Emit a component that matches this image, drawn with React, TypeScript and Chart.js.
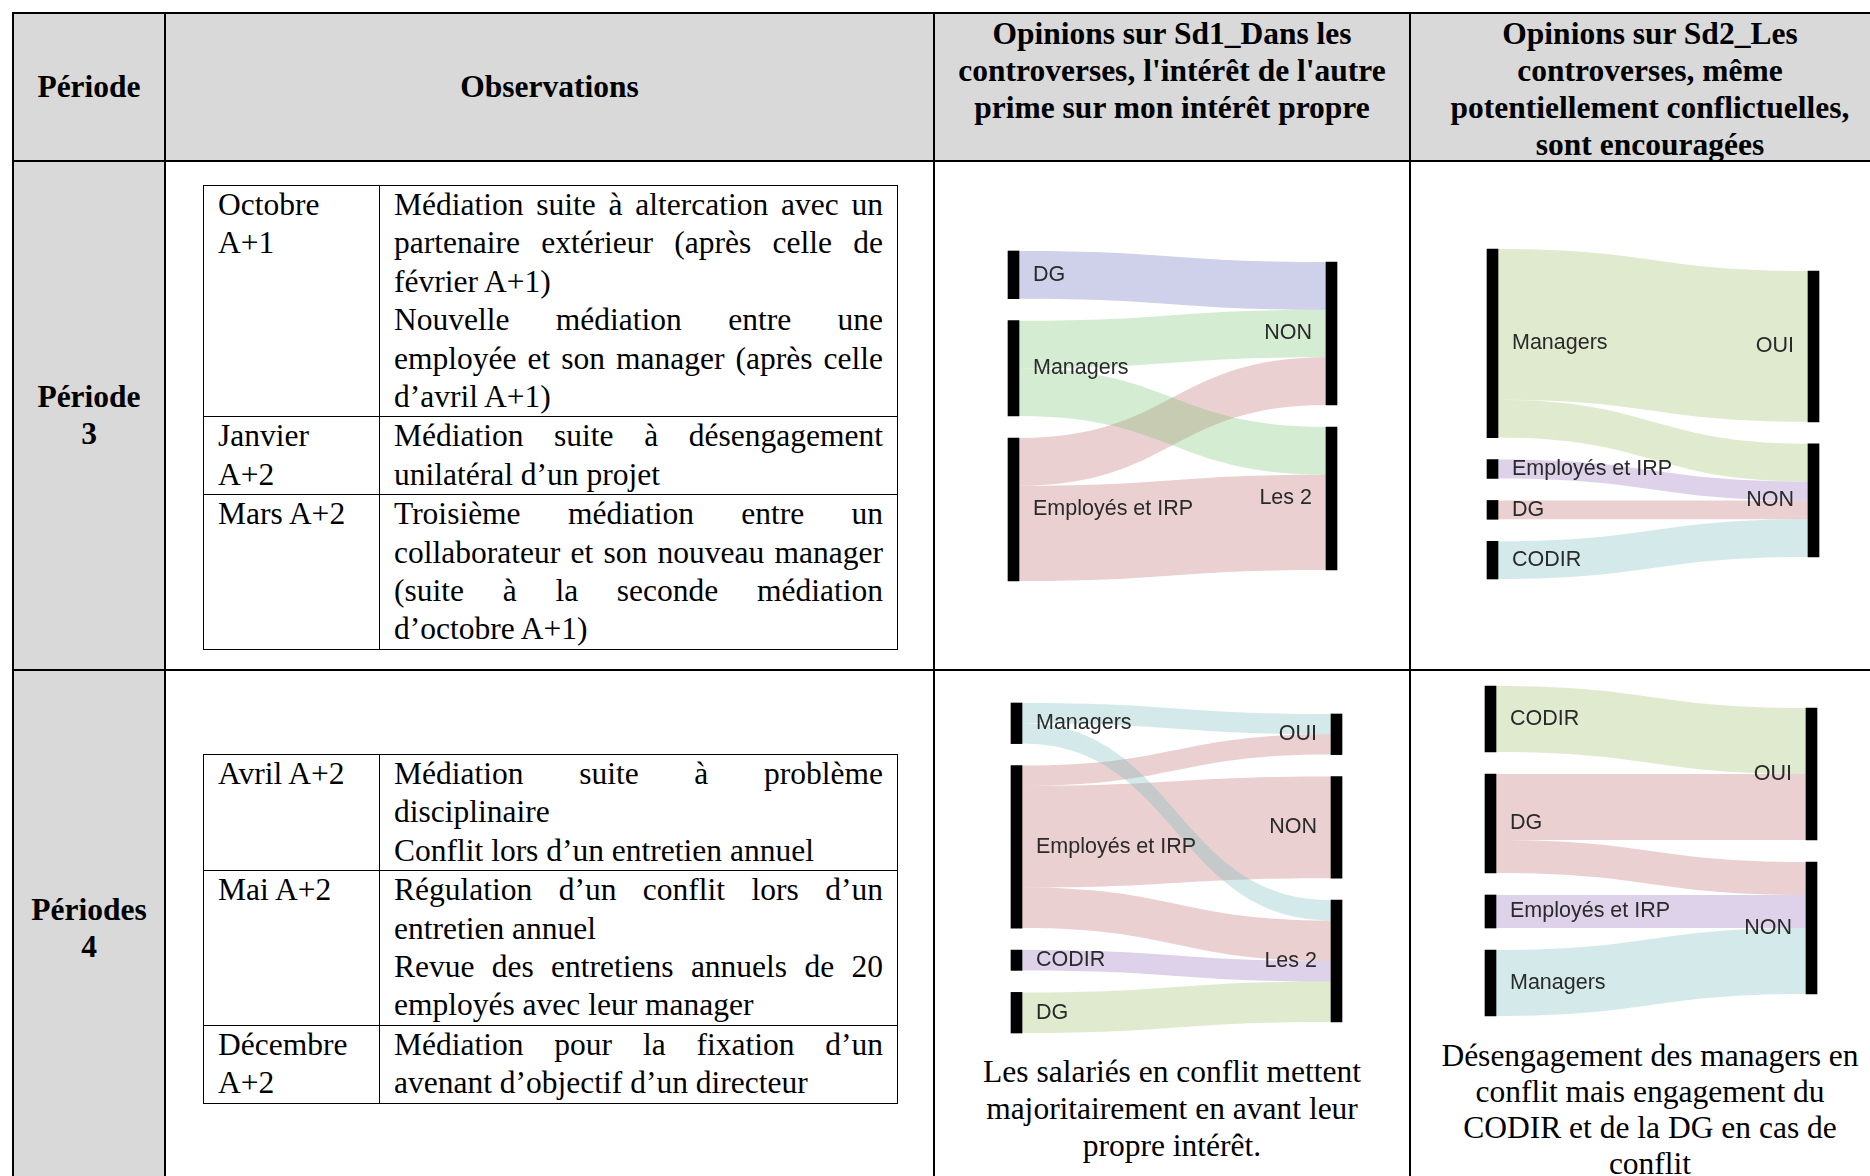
import React, { useEffect, useRef } from "react";
import { Chart, registerables } from "chart.js";

Chart.register(...registerables);

// ======================= DATA =======================
// Période 3 – Sd1 (Dans les controverses, l'intérêt de l'autre prime sur mon intérêt propre)
const p3Sd1Sources = ["DG", "Managers", "Employés et IRP"];
const p3Sd1Targets = ["NON", "Les 2"];
const p3Sd1LinkFrom = ["DG", "Managers", "Managers", "Employés et IRP", "Employés et IRP"];
const p3Sd1LinkTo = ["NON", "NON", "Les 2", "NON", "Les 2"];
const p3Sd1LinkValues = [1, 1, 1, 1, 2];

// Période 3 – Sd2 (Les controverses ... sont encouragées)
const p3Sd2Sources = ["Managers", "Employés et IRP", "DG", "CODIR"];
const p3Sd2Targets = ["OUI", "NON"];
const p3Sd2LinkFrom = ["Managers", "Managers", "Employés et IRP", "DG", "CODIR"];
const p3Sd2LinkTo = ["OUI", "NON", "NON", "NON", "NON"];
const p3Sd2LinkValues = [8, 2, 1, 1, 2];

// Périodes 4 – Sd1
const p4Sd1Sources = ["Managers", "Employés et IRP", "CODIR", "DG"];
const p4Sd1Targets = ["OUI", "NON", "Les 2"];
const p4Sd1LinkFrom = ["Managers", "Managers", "Employés et IRP", "Employés et IRP", "Employés et IRP", "CODIR", "DG"];
const p4Sd1LinkTo = ["OUI", "Les 2", "OUI", "NON", "Les 2", "Les 2", "Les 2"];
const p4Sd1LinkValues = [1, 1, 1, 5, 2, 1, 2];

// Périodes 4 – Sd2
const p4Sd2Sources = ["CODIR", "DG", "Employés et IRP", "Managers"];
const p4Sd2Targets = ["OUI", "NON"];
const p4Sd2LinkFrom = ["CODIR", "DG", "DG", "Employés et IRP", "Managers"];
const p4Sd2LinkTo = ["OUI", "OUI", "NON", "NON", "NON"];
const p4Sd2LinkValues = [2, 2, 1, 1, 2];

// ======================= STYLE =======================
const ALPHA = 0.3;
const COL = {
  lavender: `rgba(95, 98, 185, ${ALPHA})`,
  mint: `rgba(112, 192, 105, ${ALPHA})`,
  pink: `rgba(188, 98, 102, ${ALPHA})`,
  olive: `rgba(148, 185, 95, ${ALPHA})`,
  purple: `rgba(142, 105, 185, ${ALPHA})`,
  cyan: `rgba(112, 185, 185, ${ALPHA})`,
};
const p3Sd1Colors = [COL.lavender, COL.mint, COL.pink];
const p3Sd2Colors = [COL.olive, COL.purple, COL.pink, COL.cyan];
const p4Sd1Colors = [COL.cyan, COL.pink, COL.purple, COL.olive];
const p4Sd2Colors = [COL.olive, COL.pink, COL.purple, COL.cyan];

const GRAY = "#d9d9d9";
const SERIF = '"Liberation Serif", "Times New Roman", Times, serif';
const SANS = '"Liberation Sans", Arial, Helvetica, sans-serif';
const PLOT_H = 330;
const NODE_PAD = 22;
const NODE_W = 11;
const LABEL_GAP = 14;
const CANVAS_PAD = 25;

// ======================= SANKEY =======================
type Link = { s: number; t: number; v: number; s0: number; s1: number; t0: number; t1: number };

function layoutSankey(sources: string[], targets: string[], from: string[], to: string[], values: number[]) {
  const sumFor = (names: string[], keys: string[]) =>
    names.map((nm) => values.reduce((a, v, i) => a + (keys[i] === nm ? v : 0), 0));
  const srcSum = sumFor(sources, from);
  const tgtSum = sumFor(targets, to);
  const total = values.reduce((a, b) => a + b, 0);
  const nMax = Math.max(sources.length, targets.length);
  const gap = (NODE_PAD * total) / (PLOT_H - (nMax - 1) * NODE_PAD);
  const yMax = total + (nMax - 1) * gap;
  const place = (sums: number[]) => {
    const ext = sums.reduce((a, b) => a + b, 0) + (sums.length - 1) * gap;
    let y = (yMax - ext) / 2;
    return sums.map((v) => {
      const r: [number, number] = [y, y + v];
      y += v + gap;
      return r;
    });
  };
  const srcPos = place(srcSum);
  const tgtPos = place(tgtSum);
  const links: Link[] = values.map((v, i) => ({
    s: sources.indexOf(from[i]),
    t: targets.indexOf(to[i]),
    v,
    s0: 0,
    s1: 0,
    t0: 0,
    t1: 0,
  }));
  sources.forEach((_, si) => {
    let y = srcPos[si][0];
    links
      .filter((l) => l.s === si)
      .sort((a, b) => a.t - b.t)
      .forEach((l) => {
        l.s0 = y;
        y += l.v;
        l.s1 = y;
      });
  });
  targets.forEach((_, ti) => {
    let y = tgtPos[ti][0];
    links
      .filter((l) => l.t === ti)
      .sort((a, b) => a.s - b.s)
      .forEach((l) => {
        l.t0 = y;
        y += l.v;
        l.t1 = y;
      });
  });
  return { srcPos, tgtPos, links, yMax };
}

type SankeyProps = {
  sources: string[];
  targets: string[];
  from: string[];
  to: string[];
  values: number[];
  colors: string[];
  xL: number;
  xR: number;
  yTop: number;
};

function SankeyChart(p: SankeyProps) {
  const ref = useRef<HTMLCanvasElement>(null);
  const left = Math.floor(p.xL) - CANVAS_PAD;
  const top = Math.floor(p.yTop) - CANVAS_PAD;
  const width = Math.ceil(p.xR) + CANVAS_PAD - left;
  const height = PLOT_H + 2 * CANVAS_PAD;

  useEffect(() => {
    if (!ref.current) return;
    const L = layoutSankey(p.sources, p.targets, p.from, p.to, p.values);
    const nodeData = [
      ...L.srcPos.map((pos) => ({ x: 0, y: pos })),
      ...L.tgtPos.map((pos) => ({ x: 1, y: pos })),
    ];

    const flowPlugin = {
      id: "sankeyFlows",
      beforeDatasetsDraw(chart: any) {
        const ctx = chart.ctx;
        const xs = chart.scales.x;
        const ys = chart.scales.y;
        const xa = xs.getPixelForValue(0) + NODE_W / 2;
        const xb = xs.getPixelForValue(1) - NODE_W / 2;
        const xm = (xa + xb) / 2;
        ctx.save();
        for (let i = L.links.length - 1; i >= 0; i--) {
          const l = L.links[i];
          const s0 = ys.getPixelForValue(l.s0);
          const s1 = ys.getPixelForValue(l.s1);
          const t0 = ys.getPixelForValue(l.t0);
          const t1 = ys.getPixelForValue(l.t1);
          ctx.beginPath();
          ctx.moveTo(xa - 1, s0);
          ctx.lineTo(xa, s0);
          ctx.bezierCurveTo(xm, s0, xm, t0, xb, t0);
          ctx.lineTo(xb + 1, t0);
          ctx.lineTo(xb + 1, t1);
          ctx.lineTo(xb, t1);
          ctx.bezierCurveTo(xm, t1, xm, s1, xa, s1);
          ctx.lineTo(xa - 1, s1);
          ctx.closePath();
          ctx.fillStyle = p.colors[l.s];
          ctx.fill();
        }
        ctx.restore();
      },
    };

    const labelPlugin = {
      id: "sankeyLabels",
      afterDatasetsDraw(chart: any) {
        const ctx = chart.ctx;
        const xs = chart.scales.x;
        const ys = chart.scales.y;
        ctx.save();
        ctx.font = `21.5px ${SANS}`;
        ctx.fillStyle = "#2a2a2a";
        ctx.textBaseline = "middle";
        ctx.textAlign = "left";
        const xl = xs.getPixelForValue(0) + NODE_W / 2 + LABEL_GAP;
        p.sources.forEach((s, i) => {
          const yc = (ys.getPixelForValue(L.srcPos[i][0]) + ys.getPixelForValue(L.srcPos[i][1])) / 2;
          ctx.fillText(s, xl, yc);
        });
        ctx.textAlign = "right";
        const xr = xs.getPixelForValue(1) - NODE_W / 2 - LABEL_GAP;
        p.targets.forEach((t, i) => {
          const yc = (ys.getPixelForValue(L.tgtPos[i][0]) + ys.getPixelForValue(L.tgtPos[i][1])) / 2;
          ctx.fillText(t, xr, yc);
        });
        ctx.restore();
      },
    };

    const chart = new Chart(ref.current, {
      type: "bar",
      data: {
        datasets: [
          {
            data: nodeData as any,
            backgroundColor: "#000",
            borderWidth: 0,
            barThickness: NODE_W,
            clip: false as any,
          } as any,
        ],
      },
      options: {
        animation: false,
        responsive: false,
        maintainAspectRatio: false,
        indexAxis: "x",
        layout: {
          padding: {
            left: p.xL - left,
            right: left + width - p.xR,
            top: p.yTop - top,
            bottom: height - (p.yTop - top) - PLOT_H,
          },
        },
        plugins: {
          legend: { display: false },
          tooltip: { enabled: false },
          title: { display: false },
        },
        scales: {
          x: { type: "linear", min: 0, max: 1, display: false, offset: false },
          y: { type: "linear", min: 0, max: L.yMax, reverse: true, display: false },
        },
      } as any,
      plugins: [flowPlugin, labelPlugin],
    });
    return () => chart.destroy();
  }, []);

  return (
    <canvas
      ref={ref}
      width={width}
      height={height}
      style={{ position: "absolute", left, top, width, height, display: "block" }}
    />
  );
}

// ======================= TABLE TEXT =======================
type Line = [string, boolean];
type Row = { date: string[]; lines: Line[] };

const period3Rows: Row[] = [
  {
    date: ["Octobre", "A+1"],
    lines: [
      ["Médiation suite à altercation avec un", true],
      ["partenaire extérieur (après celle de", true],
      ["février A+1)", false],
      ["Nouvelle médiation entre une", true],
      ["employée et son manager (après celle", true],
      ["d’avril A+1)", false],
    ],
  },
  {
    date: ["Janvier", "A+2"],
    lines: [
      ["Médiation suite à désengagement", true],
      ["unilatéral d’un projet", false],
    ],
  },
  {
    date: ["Mars A+2"],
    lines: [
      ["Troisième médiation entre un", true],
      ["collaborateur et son nouveau manager", true],
      ["(suite à la seconde médiation", true],
      ["d’octobre A+1)", false],
    ],
  },
];

const period4Rows: Row[] = [
  {
    date: ["Avril A+2"],
    lines: [
      ["Médiation suite à problème", true],
      ["disciplinaire", false],
      ["Conflit lors d’un entretien annuel", false],
    ],
  },
  {
    date: ["Mai A+2"],
    lines: [
      ["Régulation d’un conflit lors d’un", true],
      ["entretien annuel", false],
      ["Revue des entretiens annuels de 20", true],
      ["employés avec leur manager", false],
    ],
  },
  {
    date: ["Décembre", "A+2"],
    lines: [
      ["Médiation pour la fixation d’un", true],
      ["avenant d’objectif d’un directeur", false],
    ],
  },
];

const tdStyle: React.CSSProperties = {
  border: "1.5px solid #000",
  padding: "0 14px",
  verticalAlign: "top",
};

function InnerTable({ top, rows }: { top: number; rows: Row[] }) {
  return (
    <table
      style={{
        position: "absolute",
        left: 203,
        top,
        width: 694,
        borderCollapse: "collapse",
        tableLayout: "fixed",
        fontFamily: SERIF,
        fontSize: 31.5,
        lineHeight: "38.4px",
        color: "#000",
      }}
    >
      <colgroup>
        <col style={{ width: 176 }} />
        <col style={{ width: 518 }} />
      </colgroup>
      <tbody>
        {rows.map((r, i) => (
          <tr key={i}>
            <td style={tdStyle}>
              {r.date.map((d, k) => (
                <div key={k}>{d}</div>
              ))}
            </td>
            <td style={tdStyle}>
              {r.lines.map(([t, j], k) => (
                <div
                  key={k}
                  style={{
                    textAlign: j ? "justify" : "left",
                    textAlignLast: j ? "justify" : "left",
                  }}
                >
                  {t}
                </div>
              ))}
            </td>
          </tr>
        ))}
      </tbody>
    </table>
  );
}

function Abs(props: { x: number; y: number; w: number; h: number; style?: React.CSSProperties; children?: any }) {
  return (
    <div
      style={{
        position: "absolute",
        left: props.x,
        top: props.y,
        width: props.w,
        height: props.h,
        boxSizing: "border-box",
        ...props.style,
      }}
    >
      {props.children}
    </div>
  );
}

const centerBold: React.CSSProperties = {
  display: "flex",
  alignItems: "center",
  justifyContent: "center",
  textAlign: "center",
  fontWeight: "bold",
  fontSize: 31.5,
  lineHeight: "37px",
};

const topBold: React.CSSProperties = {
  textAlign: "center",
  fontWeight: "bold",
  fontSize: 31.5,
  lineHeight: "37px",
  paddingTop: 1.5,
  whiteSpace: "nowrap",
};

export default function App() {
  return (
    <div
      style={{
        position: "absolute",
        left: 0,
        top: 0,
        width: 1870,
        height: 1176,
        overflow: "hidden",
        background: "#fff",
        fontFamily: SERIF,
        color: "#000",
      }}
    >
      {/* gray fills */}
      <Abs x={13} y={13} w={1880} h={148} style={{ background: GRAY }} />
      <Abs x={13} y={160} w={152} h={1040} style={{ background: GRAY }} />

      {/* header texts */}
      <Abs x={13} y={13} w={152} h={147} style={centerBold}>
        Période
      </Abs>
      <Abs x={165} y={13} w={769} h={147} style={centerBold}>
        Observations
      </Abs>
      <Abs x={934} y={13} w={476} h={147} style={topBold}>
        Opinions sur Sd1_Dans les
        <br />
        controverses, l'intérêt de l'autre
        <br />
        prime sur mon intérêt propre
      </Abs>
      <Abs x={1410} y={13} w={480} h={147} style={topBold}>
        Opinions sur Sd2_Les
        <br />
        controverses, même
        <br />
        potentiellement conflictuelles,
        <br />
        sont encouragées
      </Abs>

      {/* period labels */}
      <Abs x={13} y={160} w={152} h={509} style={centerBold}>
        <div>
          Période
          <br />3
        </div>
      </Abs>
      <Abs x={13} y={669} w={152} h={517} style={centerBold}>
        <div>
          Périodes
          <br />4
        </div>
      </Abs>

      {/* observation tables */}
      <InnerTable top={185} rows={period3Rows} />
      <InnerTable top={754} rows={period4Rows} />

      {/* captions */}
      <Abs x={934} y={1053} w={476} h={120} style={{ textAlign: "center", fontSize: 31.5, lineHeight: "37px" }}>
        Les salariés en conflit mettent
        <br />
        majoritairement en avant leur
        <br />
        propre intérêt.
      </Abs>
      <Abs x={1410} y={1038} w={480} h={150} style={{ textAlign: "center", fontSize: 31.5, lineHeight: "36px" }}>
        Désengagement des managers en
        <br />
        conflit mais engagement du
        <br />
        CODIR et de la DG en cas de
        <br />
        conflit
      </Abs>

      {/* table grid lines */}
      <Abs x={12} y={12} w={1880} h={2} style={{ background: "#000" }} />
      <Abs x={12} y={159.5} w={1880} h={2} style={{ background: "#000" }} />
      <Abs x={12} y={668.5} w={1880} h={2} style={{ background: "#000" }} />
      <Abs x={12} y={12} w={2} h={1180} style={{ background: "#000" }} />
      <Abs x={164} y={12} w={2} h={1180} style={{ background: "#000" }} />
      <Abs x={933} y={12} w={2} h={1180} style={{ background: "#000" }} />
      <Abs x={1409} y={12} w={2} h={1180} style={{ background: "#000" }} />

      {/* sankey charts */}
      <SankeyChart
        sources={p3Sd1Sources}
        targets={p3Sd1Targets}
        from={p3Sd1LinkFrom}
        to={p3Sd1LinkTo}
        values={p3Sd1LinkValues}
        colors={p3Sd1Colors}
        xL={1013.5}
        xR={1331.5}
        yTop={251}
      />
      <SankeyChart
        sources={p3Sd2Sources}
        targets={p3Sd2Targets}
        from={p3Sd2LinkFrom}
        to={p3Sd2LinkTo}
        values={p3Sd2LinkValues}
        colors={p3Sd2Colors}
        xL={1492.5}
        xR={1813.5}
        yTop={249}
      />
      <SankeyChart
        sources={p4Sd1Sources}
        targets={p4Sd1Targets}
        from={p4Sd1LinkFrom}
        to={p4Sd1LinkTo}
        values={p4Sd1LinkValues}
        colors={p4Sd1Colors}
        xL={1016.5}
        xR={1336.5}
        yTop={703}
      />
      <SankeyChart
        sources={p4Sd2Sources}
        targets={p4Sd2Targets}
        from={p4Sd2LinkFrom}
        to={p4Sd2LinkTo}
        values={p4Sd2LinkValues}
        colors={p4Sd2Colors}
        xL={1490.5}
        xR={1811.5}
        yTop={686}
      />
    </div>
  );
}
